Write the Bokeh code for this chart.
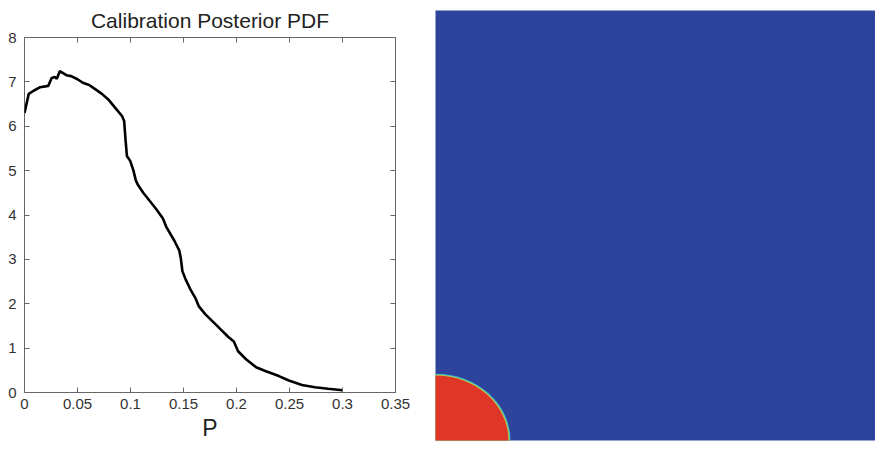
from bokeh.plotting import figure
from bokeh.layouts import row, column
from bokeh.models import FixedTicker, LinearAxis, Range1d
from bokeh.embed import file_html
from bokeh.resources import INLINE

# ---- data ----
p_vals = [0.0, 0.004, 0.0086, 0.0148, 0.0225, 0.0256, 0.0287, 0.0305, 0.0333, 0.0395,
          0.044, 0.050, 0.055, 0.061, 0.067, 0.073, 0.0796, 0.0858, 0.092, 0.094,
          0.095, 0.0966, 0.0997, 0.1028, 0.105, 0.107, 0.112, 0.118, 0.124, 0.1306,
          0.1336, 0.1414, 0.146, 0.1475, 0.149, 0.152, 0.157, 0.1614, 0.1645, 0.1707,
          0.1784, 0.186, 0.1923, 0.1975, 0.2015, 0.209, 0.2185, 0.2278, 0.240, 0.2494,
          0.2617, 0.274, 0.2864, 0.300]
pdf_vals = [6.30, 6.73, 6.80, 6.88, 6.91, 7.09, 7.11, 7.07, 7.24, 7.15,
            7.13, 7.06, 6.98, 6.93, 6.83, 6.73, 6.59, 6.41, 6.23, 6.12,
            5.79, 5.33, 5.22, 5.00, 4.78, 4.68, 4.50, 4.32, 4.14, 3.92,
            3.74, 3.42, 3.20, 3.02, 2.73, 2.55, 2.30, 2.12, 1.94, 1.76,
            1.58, 1.40, 1.25, 1.15, 0.93, 0.75, 0.57, 0.48, 0.37, 0.27,
            0.17, 0.12, 0.086, 0.05]
x_ticks = [0, 0.05, 0.1, 0.15, 0.2, 0.25, 0.3, 0.35]
x_tick_labels = ["0", "0.05", "0.1", "0.15", "0.2", "0.25", "0.3", "0.35"]
y_ticks = [0, 1, 2, 3, 4, 5, 6, 7, 8]

# right panel: quarter-disc region (fraction of domain)
region_rx = [0.166]
region_ry = [0.151]

FONT = "Liberation Sans"
FRAME = "#666666"

# ---- left plot ----
p = figure(width=435, height=443, x_range=Range1d(0, 0.35), y_range=Range1d(0, 8),
           output_backend="svg", toolbar_location=None,
           min_border_left=24, min_border_right=40, min_border_top=37, min_border_bottom=49)
p.title.text = "Calibration Posterior PDF"
p.title.align = "center"
p.title.text_font = FONT
p.title.text_font_size = "21px"
p.title.text_font_style = "normal"
p.title.text_color = "#222222"
p.title.standoff = 12
p.grid.visible = False
p.outline_line_color = FRAME
p.outline_line_width = 1

for ax in (p.xaxis[0], p.yaxis[0]):
    ax.major_tick_in = 5
    ax.major_tick_out = 0
    ax.minor_tick_line_color = None
    ax.axis_line_color = None
    ax.major_tick_line_color = FRAME
    ax.major_label_text_font = FONT
    ax.major_label_text_font_size = "15px"
    ax.major_label_text_color = "#333333"

p.xaxis[0].ticker = FixedTicker(ticks=x_ticks)
p.xaxis[0].major_label_overrides = {t: l for t, l in zip(x_ticks, x_tick_labels)}
p.xaxis[0].major_label_standoff = 6
p.yaxis[0].ticker = FixedTicker(ticks=y_ticks)
p.yaxis[0].major_label_standoff = 8
p.xaxis[0].axis_label = "P"
p.xaxis[0].axis_label_text_font = FONT
p.xaxis[0].axis_label_text_font_size = "23px"
p.xaxis[0].axis_label_text_font_style = "normal"
p.xaxis[0].axis_label_text_color = "#222222"
p.xaxis[0].axis_label_standoff = 3

# mirrored inward ticks on right and top (minor ticks only, so no labels)
right_ax = LinearAxis(ticker=FixedTicker(ticks=[], minor_ticks=y_ticks),
                      minor_tick_in=5, minor_tick_out=0, major_tick_line_color=None,
                      axis_line_color=None, minor_tick_line_color=FRAME)
top_ax = LinearAxis(ticker=FixedTicker(ticks=[], minor_ticks=x_ticks),
                    minor_tick_in=5, minor_tick_out=0, major_tick_line_color=None,
                    axis_line_color=None, minor_tick_line_color=FRAME)
p.add_layout(right_ax, "right")
p.add_layout(top_ax, "above")

p.line(p_vals, pdf_vals, line_color="black", line_width=2.6)

# ---- right panel ----
q = figure(width=440, height=443, x_range=Range1d(0, 1), y_range=Range1d(0, 1),
           output_backend="svg", toolbar_location=None,
           min_border_left=0, min_border_right=0, min_border_top=10, min_border_bottom=3)
q.title = None
q.axis.visible = False
q.grid.visible = False
q.outline_line_color = None
q.background_fill_color = "#2E439C"
q.ellipse(x=[0], y=[0], width=[2 * region_rx[0] + 0.009], height=[2 * region_ry[0] + 0.009],
          fill_color="#3FB8C8", line_color=None)
q.ellipse(x=[0], y=[0], width=[2 * region_rx[0] + 0.004], height=[2 * region_ry[0] + 0.004],
          fill_color="#B5D84A", line_color=None)
q.ellipse(x=[0], y=[0], width=[2 * region_rx[0]], height=[2 * region_ry[0]],
          fill_color="#E03628", line_color=None)

layout = row(p, column(q), spacing=0)
open("out.html", "w").write(file_html(layout, INLINE))
